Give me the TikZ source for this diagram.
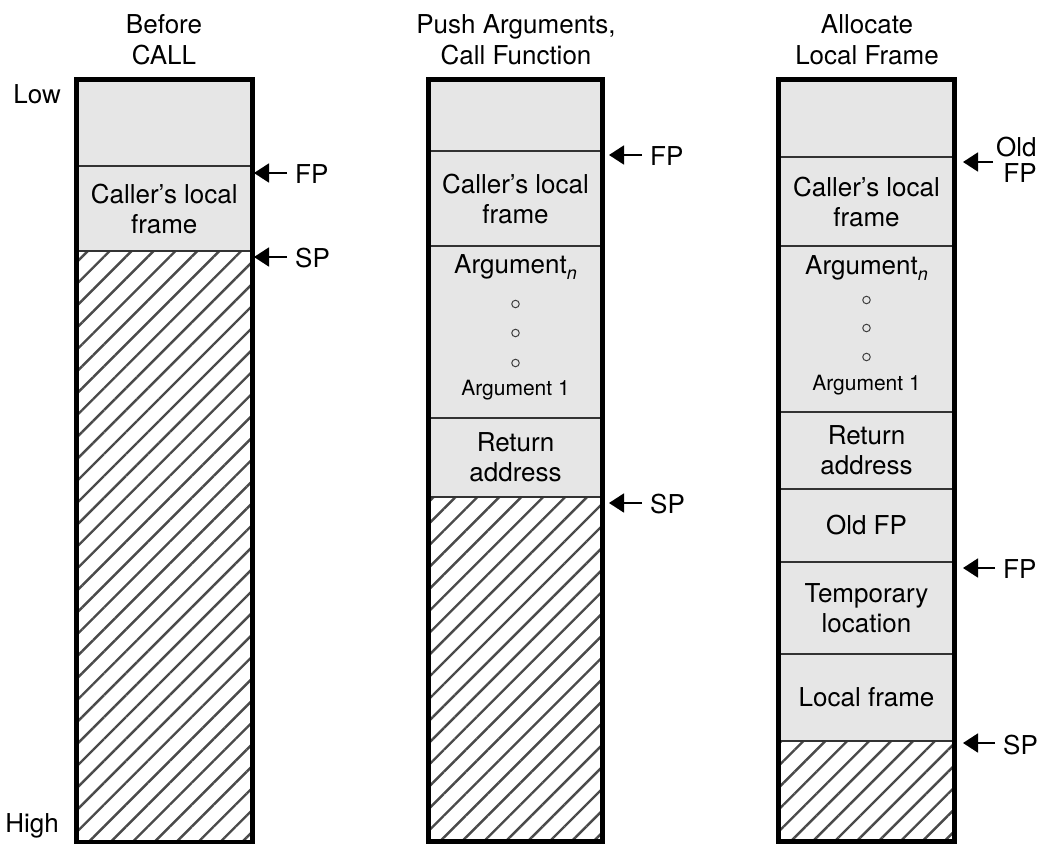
\documentclass[tikz,border=0pt]{standalone}
\usepackage{fontspec}
\setmainfont{TeX Gyre Heros}
\usetikzlibrary{arrows.meta,patterns.meta}
\definecolor{cellfill}{HTML}{E6E6E6}
\definecolor{hatchgray}{HTML}{4A4A4A}
\definecolor{rulegray}{HTML}{333333}

\begin{document}
\begin{tikzpicture}[x=1pt,y=-1pt,
  cell/.style={draw=rulegray, line width=1.2pt, fill=cellfill, inner sep=0pt,
               align=center, font=\fontsize{26}{30}\selectfont},
  hatch/.style={draw=none, inner sep=0pt,
                pattern={Lines[angle=45,distance=15.5pt,line width=2.4pt]},
                pattern color=hatchgray},
  frameedge/.style={line width=5pt, line join=miter},
  heading/.style={inner sep=0pt, anchor=north, align=center,
                  font=\fontsize{26}{31}\selectfont},
  sidelabel/.style={inner sep=0pt, anchor=base east, font=\fontsize{26}{30}\selectfont},
  ptrlabel/.style={inner ysep=0pt, inner xsep=8pt, anchor=west, align=right,
                   font=\fontsize{26}{26}\selectfont},
  ptr/.style={line width=1.8pt, -{Triangle[length=15pt,width=19pt]}},
  bigtext/.style={inner sep=0pt, font=\fontsize{26}{30}\selectfont},
  smalltext/.style={inner sep=0pt, font=\fontsize{21}{24}\selectfont},
  dotmark/.style={circle, draw=black!75, line width=1pt, minimum size=7.5pt, inner sep=0pt},
]
\useasboundingbox (0,0) rectangle (1041,843);

% ---------- headings ----------
\node[heading] (h1) at (164,14.5) {Before\\CALL};
\node[heading] (h2) at (516,14.5) {Push Arguments,\\Call Function};
\node[heading] (h3) at (867,14.5) {Allocate\\Local Frame};

\node[sidelabel] (low) at (61,103) {Low};
\node[sidelabel] (high) at (59,832) {High};

% ---------- stack 1: before CALL ----------
\node[hatch, minimum width=173.5pt, minimum height=592pt] (s1free) at (164.25,545) {};
\node[cell, minimum width=173.5pt, minimum height=86pt] (s1top) at (164.25,123) {};
\node[cell, minimum width=173.5pt, minimum height=85pt] (s1caller) at (164.25,208.5) {Caller’s local\\frame};
\draw[frameedge] (s1top.north west) rectangle (s1free.south east);

% ---------- stack 2: arguments pushed, function called ----------
\node[hatch, minimum width=173pt, minimum height=344pt] (s2free) at (515.5,669) {};
\node[cell, minimum width=173pt, minimum height=71pt] (s2top) at (515.5,115.5) {};
\node[cell, minimum width=173pt, minimum height=95pt] (s2caller) at (515.5,198.5) {Caller’s local\\frame};
\node[cell, minimum width=173pt, minimum height=172pt] (s2args) at (515.5,332) {};
\node[cell, minimum width=173pt, minimum height=79pt] (s2ret) at (515.5,457.5) {Return\\address};
\draw[frameedge] (s2top.north west) rectangle (s2free.south east);

\node[bigtext] (s2argn) at (515.5,267) {Argument\raisebox{-6.5pt}{\fontsize{18}{18}\selectfont\itshape n}};
\node[dotmark] (s2dota) at (515.5,304) {};
\node[dotmark] (s2dotb) at (515.5,333) {};
\node[dotmark] (s2dotc) at (515.5,363) {};
\node[smalltext] (s2arg1) at (515.5,390) {Argument 1};

% ---------- stack 3: local frame allocated ----------
\node[hatch, minimum width=175pt, minimum height=100pt] (s3free) at (866.5,791) {};
\node[cell, minimum width=175pt, minimum height=77pt] (s3top) at (866.5,118.5) {};
\node[cell, minimum width=175pt, minimum height=89pt] (s3caller) at (866.5,201.5) {Caller’s local\\frame};
\node[cell, minimum width=175pt, minimum height=166pt] (s3args) at (866.5,329) {};
\node[cell, minimum width=175pt, minimum height=77pt] (s3ret) at (866.5,450.5) {Return\\address};
\node[cell, minimum width=175pt, minimum height=73pt] (s3oldfp) at (866.5,525.5) {Old FP};
\node[cell, minimum width=175pt, minimum height=92pt] (s3temp) at (866.5,608) {Temporary\\location};
\node[cell, minimum width=175pt, minimum height=87pt] (s3local) at (866.5,697.5) {Local frame};
\draw[frameedge] (s3top.north west) rectangle (s3free.south east);

\node[bigtext] (s3argn) at (866.5,268) {Argument\raisebox{-6.5pt}{\fontsize{18}{18}\selectfont\itshape n}};
\node[dotmark] (s3dota) at (866.5,300) {};
\node[dotmark] (s3dotb) at (866.5,328) {};
\node[dotmark] (s3dotc) at (866.5,357) {};
\node[smalltext] (s3arg1) at (866.5,385) {Argument 1};

% ---------- pointer labels and arrows ----------
\coordinate (t1fp) at (254,173);
\coordinate (t1sp) at (254,257);
\node[ptrlabel] (p1fp) at (287,174) {FP};
\node[ptrlabel] (p1sp) at (287,258) {SP};
\draw[ptr] (t1fp -| p1fp.west) -- (t1fp);
\draw[ptr] (t1sp -| p1sp.west) -- (t1sp);

\coordinate (t2fp) at (609,155);
\coordinate (t2sp) at (609,503);
\node[ptrlabel] (p2fp) at (642,156) {FP};
\node[ptrlabel] (p2sp) at (642,504) {SP};
\draw[ptr] (t2fp -| p2fp.west) -- (t2fp);
\draw[ptr] (t2sp -| p2sp.west) -- (t2sp);

\coordinate (t3old) at (963,162);
\coordinate (t3fp) at (963,568);
\coordinate (t3sp) at (963,743);
\node[ptrlabel, inner xsep=3pt] (p3old) at (993,160) {Old\\FP};
\node[ptrlabel] (p3fp) at (995,569) {FP};
\node[ptrlabel] (p3sp) at (995,745) {SP};
\draw[ptr] (t3old -| p3old.west) -- (t3old);
\draw[ptr] (t3fp -| p3fp.west) -- (t3fp);
\draw[ptr] (t3sp -| p3sp.west) -- (t3sp);
\end{tikzpicture}
\end{document}
